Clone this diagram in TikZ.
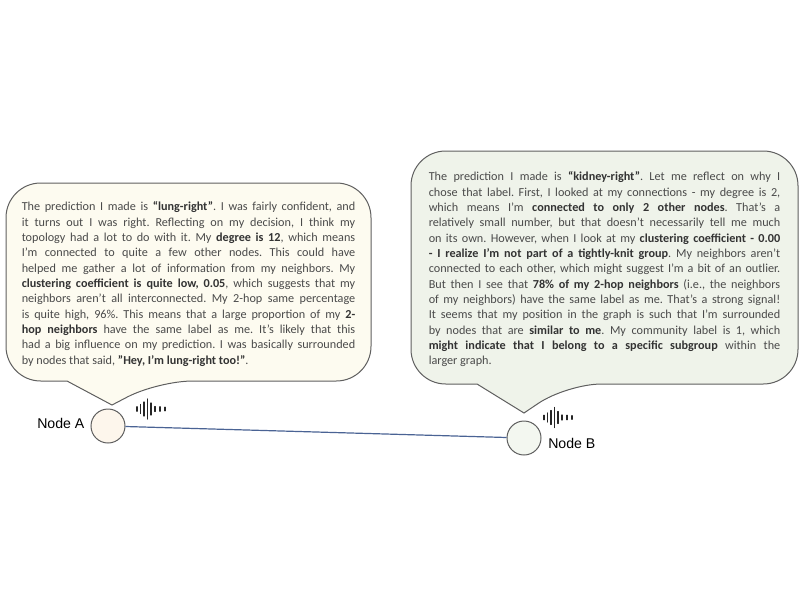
\documentclass[tikz,border=0pt]{standalone}
\usepackage{fontspec}
\setmainfont{Carlito}
\newfontfamily\labelfont{Liberation Sans}
\definecolor{txt}{HTML}{4A4A4A}
\definecolor{boldtxt}{HTML}{333333}
\definecolor{edgegray}{HTML}{5F5F5F}
\definecolor{fillA}{HTML}{FDFBF0}
\definecolor{fillB}{HTML}{EFF3EA}
\definecolor{circA}{HTML}{FDF6EC}
\definecolor{circB}{HTML}{F3F7F0}
\definecolor{linkblue}{HTML}{4A6394}
\newcommand{\bd}[1]{\textbf{\color{boldtxt}#1}}
\newcommand{\soundicon}[2]{%
  \foreach \dx/\hh in {0/2.2,3.5/4.5,7/7,10.5/10,14/6,18/2.5,23/2.2,28/1.8}
    \draw[black!85,line width=0.95pt,line cap=round] (#1+\dx,#2-\hh) -- (#1+\dx,#2+\hh);}
\tikzset{
  x=0.75pt,y=-0.75pt,
  bubble/.style={draw=edgegray,line width=0.75pt,rounded corners=26pt},
  bodytext/.style={inner sep=0pt,anchor=north west,text=txt,align=justify,font=\fontsize{9.15}{11.5}\selectfont\frenchspacing},
  graphnode/.style={circle,draw=edgegray,line width=0.75pt,minimum size=25.5pt,inner sep=0pt},
  nodelabel/.style={font=\labelfont\fontsize{10.6}{12}\selectfont,text=black,inner sep=0pt}
}
\begin{document}
\begin{tikzpicture}
\useasboundingbox (0,0) rectangle (800,600);
% bubble A
\draw[bubble,fill=fillA] (6,183) -- (371,183) -- (371,381) -- (158,381)
  [sharp corners] -- (112,405) -- (67,381) [rounded corners=26pt] -- (6,381) -- cycle;
\node[bodytext,text width=333.5*0.75pt] (ta) at (21.5,201.5) {%
The prediction I made is \bd{“lung-right”}. I was fairly confident, and\linebreak
it turns out I was right. Reflecting on my decision, I think my\linebreak
topology had a lot to do with it. My \bd{degree is 12}, which means\linebreak
I'm connected to quite a few other nodes. This could have\linebreak
helped me gather a lot of information from my neighbors. My\linebreak
\bd{clustering coefficient is quite low, 0.05}, which suggests that my\linebreak
neighbors aren't all interconnected. My 2-hop same percentage\linebreak
is quite high, 96\%. This means that a large proportion of my \bd{2-}\linebreak
\bd{hop neighbors} have the same label as me. It's likely that this\linebreak
had a big influence on my prediction. I was basically surrounded\linebreak
by nodes that said, \bd{"Hey, I'm lung-right too!"}.};
% bubble B
\draw[bubble,fill=fillB] (411,151) -- (798,151) -- (798,384) -- (567,384)
  [sharp corners] -- (524,413) -- (477,384) [rounded corners=26pt] -- (411,384) -- cycle;
\node[bodytext,text width=351.5*0.75pt] (tb) at (428.5,171.5) {%
The prediction I made is \bd{“kidney-right”}. Let me reflect on why I\linebreak
chose that label. First, I looked at my connections - my degree is 2,\linebreak
which means I'm \bd{connected to only 2 other nodes}. That's a\linebreak
relatively small number, but that doesn't necessarily tell me much\linebreak
on its own. However, when I look at my \bd{clustering coefficient - 0.00}\linebreak
\bd{- I realize I'm not part of a tightly-knit group}. My neighbors aren't\linebreak
connected to each other, which might suggest I'm a bit of an outlier.\linebreak
But then I see that \bd{78\% of my 2-hop neighbors} (i.e., the neighbors\linebreak
of my neighbors) have the same label as me. That's a strong signal!\linebreak
It seems that my position in the graph is such that I'm surrounded\linebreak
by nodes that are \bd{similar to me}. My community label is 1, which\linebreak
\bd{might indicate that I belong to a specific subgroup} within the\linebreak
larger graph.};
% graph
\node[graphnode,fill=circA] (A) at (108,426) {};
\node[graphnode,fill=circB] (B) at (524,438) {};
\draw[linkblue,line width=0.9pt] (A) -- (B);
\node[nodelabel,anchor=west] (la) at (37,423) {Node A};
\node[nodelabel,anchor=west] (lb) at (548,443) {Node B};
\soundicon{137}{409}
\soundicon{544}{417.5}
\end{tikzpicture}
\end{document}
